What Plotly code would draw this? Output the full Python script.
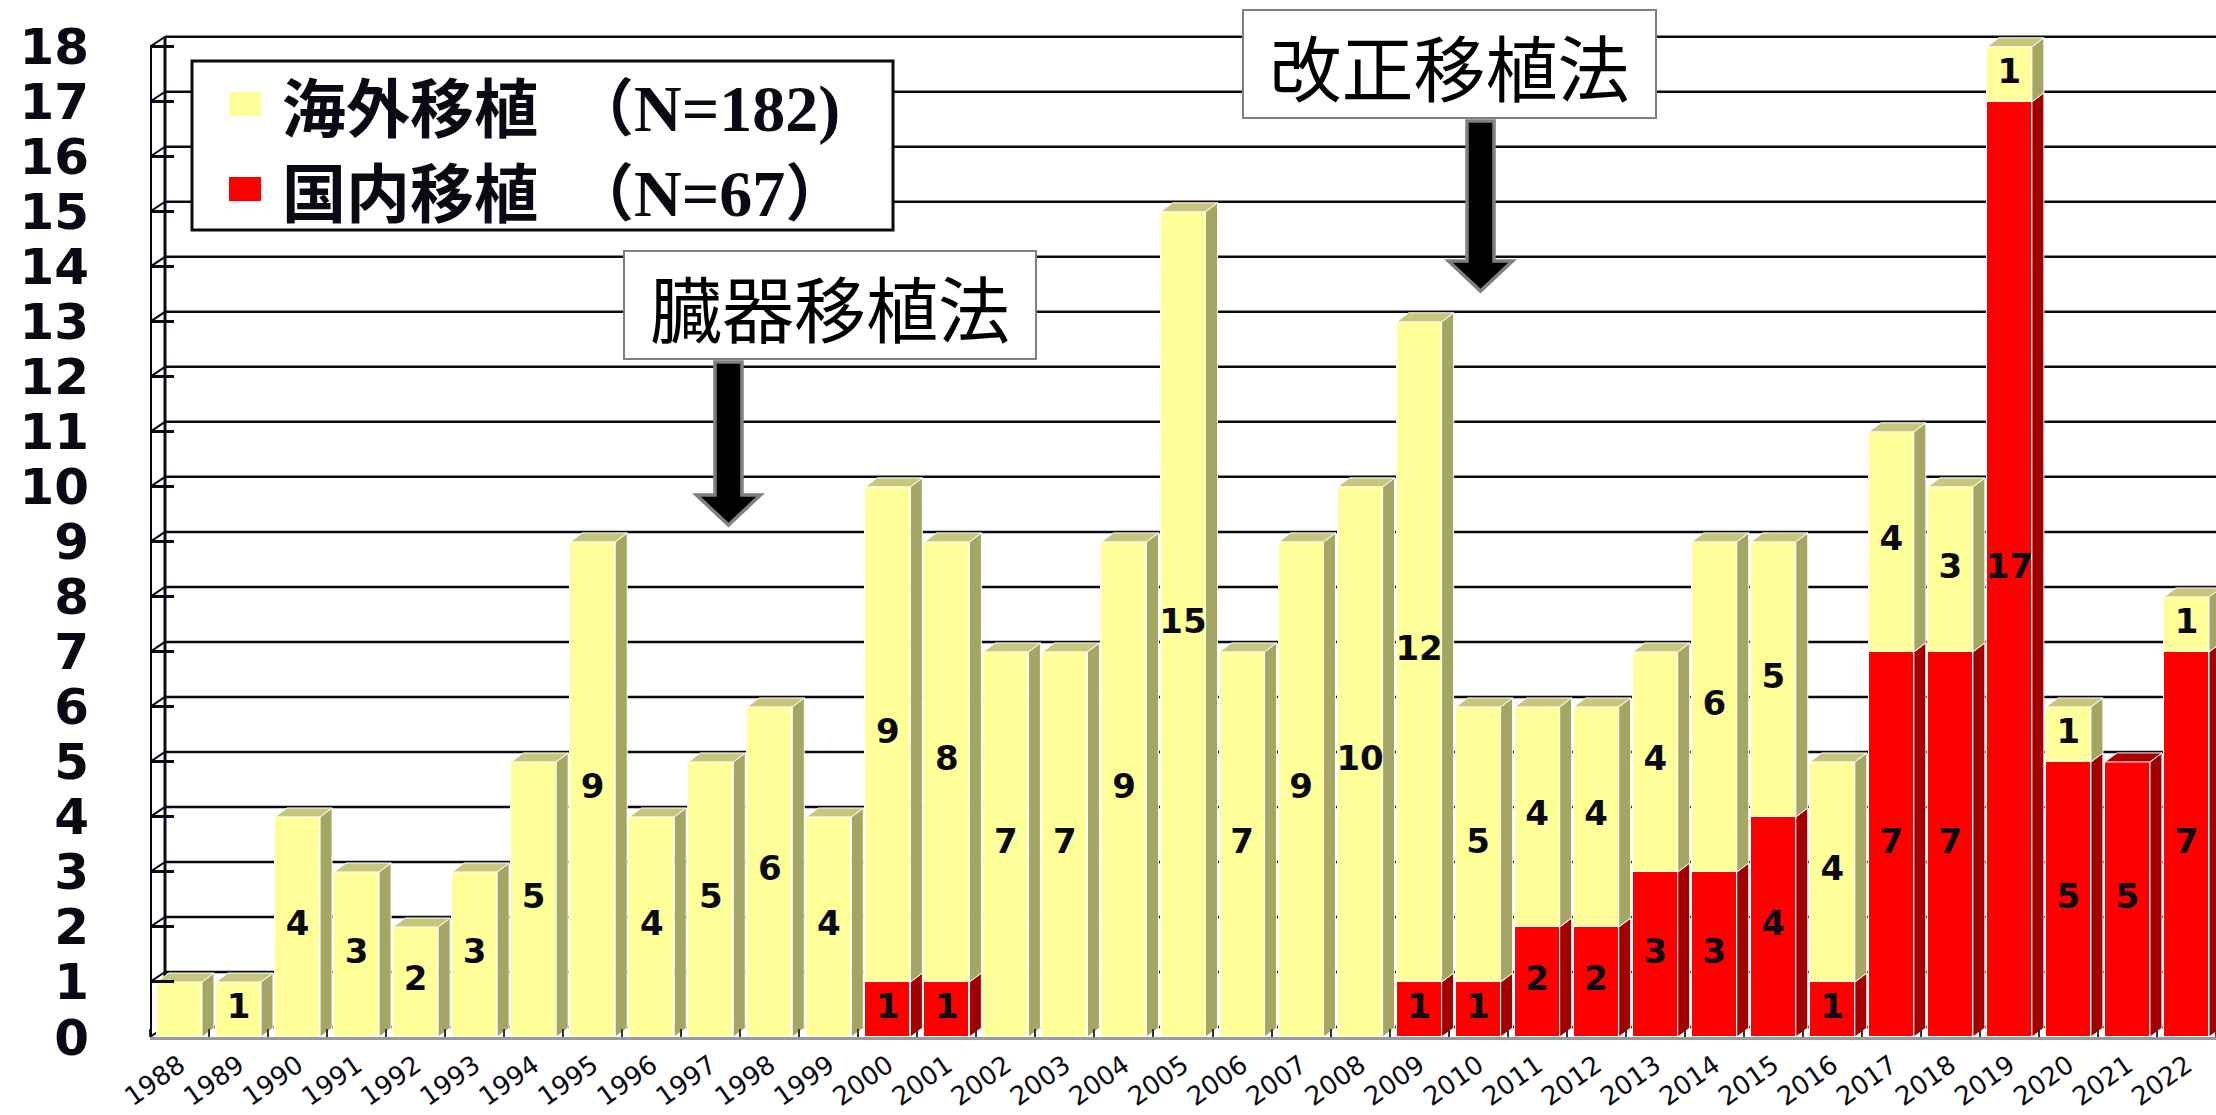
import plotly.graph_objects as go

# ---------------- data ----------------
years = ["1988", "1989", "1990", "1991", "1992", "1993", "1994", "1995", "1996",
         "1997", "1998", "1999", "2000", "2001", "2002", "2003", "2004", "2005",
         "2006", "2007", "2008", "2009", "2010", "2011", "2012", "2013", "2014",
         "2015", "2016", "2017", "2018", "2019", "2020", "2021", "2022"]
overseas = [1, 1, 4, 3, 2, 3, 5, 9, 4, 5, 6, 4, 9, 8, 7, 7, 9, 15, 7, 9, 10, 12,
            5, 4, 4, 4, 6, 5, 4, 4, 3, 1, 1, 0, 1]
domestic = [0, 0, 0, 0, 0, 0, 0, 0, 0, 0, 0, 0, 1, 1, 0, 0, 0, 0, 0, 0, 0, 1,
            1, 2, 2, 3, 3, 4, 1, 7, 7, 17, 5, 5, 7]
overseas_name = "海外移植"
domestic_name = "国内移植"
overseas_n = "（N=182)"
domestic_n = "（N=67）"
hidden_label_years = ["1988"]          # the 1988 bar carries no value label
y_ticks = list(range(0, 19))
law_1997 = ("臓器移植法", "1997")
law_2010 = ("改正移植法", "2010")

# ---------------- styling / geometry ----------------
W, H = 2216, 1115
ML, MR, MT, MB = 150, 0, 33, 78
PW, PH = W - ML - MR, H - MT - MB
XR = [-0.5, len(years) - 0.5]
YR = [0, 18.25]

def px2x(p):
    return XR[0] + (p - ML) / PW * (XR[1] - XR[0])

def px2y(p):
    return YR[0] + (MT + PH - p) / PH * (YR[1] - YR[0])

UX = PW / (XR[1] - XR[0])
UY = PH / (YR[1] - YR[0])
BW = 45 / UX            # bar front width
DX, DY = 12 / UX, 9 / UY  # bar depth
GDX, GDY = 15 / UX, 10 / UY  # wall depth

YEL, YEL_SIDE, YEL_TOP = "#FFFF99", "#A6A664", "#C8C67C"
RED, RED_SIDE, RED_TOP = "#FF0000", "#A30000", "#A80000"

idx = list(range(len(years)))

fig = go.Figure()
fig.add_bar(x=idx, y=domestic, width=BW, name=domestic_name,
            marker=dict(color=RED, line=dict(color="white", width=1.5)),
            hoverinfo="skip", showlegend=False)
fig.add_bar(x=idx, y=overseas, width=BW, name=overseas_name,
            marker=dict(color=YEL, line=dict(color="white", width=1.5)),
            hoverinfo="skip", showlegend=False)

# 3D side and top faces built from the data
def side_polys(bases, vals):
    xs, ys = [], []
    for i, (b, v) in enumerate(zip(bases, vals)):
        if v <= 0:
            continue
        xr = i + BW / 2
        xs += [xr, xr + DX, xr + DX, xr, xr, None]
        ys += [b, b + DY, b + v + DY, b + v, b, None]
    return xs, ys

xs, ys = side_polys([0] * len(domestic), domestic)
fig.add_scatter(x=xs, y=ys, mode="lines", fill="toself", fillcolor=RED_SIDE,
                line=dict(color="white", width=1), hoverinfo="skip", showlegend=False)
xs, ys = side_polys(domestic, overseas)
fig.add_scatter(x=xs, y=ys, mode="lines", fill="toself", fillcolor=YEL_SIDE,
                line=dict(color="white", width=1), hoverinfo="skip", showlegend=False)

for color, pick in ((YEL_TOP, lambda o, d: o > 0), (RED_TOP, lambda o, d: o == 0 and d > 0)):
    xs, ys = [], []
    for i, (o, d) in enumerate(zip(overseas, domestic)):
        if not pick(o, d):
            continue
        top = o + d
        xl, xr = i - BW / 2, i + BW / 2
        xs += [xl, xl + DX, xr + DX, xr, xl, None]
        ys += [top, top + DY, top + DY, top, top, None]
    fig.add_scatter(x=xs, y=ys, mode="lines", fill="toself", fillcolor=color,
                    line=dict(color="white", width=1), hoverinfo="skip", showlegend=False)

# value labels
lx, ly, lt = [], [], []
for i, (y, o, d) in enumerate(zip(years, overseas, domestic)):
    if d > 0:
        lx.append(i); ly.append(d / 2); lt.append(str(d))
    if o > 0 and y not in hidden_label_years:
        lx.append(i); ly.append(d + o / 2); lt.append(str(o))
fig.add_scatter(x=lx, y=ly, text=lt, mode="text",
                textfont=dict(family="DejaVu Sans", size=34, color="#0a0a14", weight="bold"),
                hoverinfo="skip", showlegend=False)

# ---------------- walls / grid ----------------
shapes = []
xb = XR[0] + GDX
for v in y_ticks:
    shapes.append(dict(type="line", xref="x", yref="y", layer="below",
                       x0=xb, x1=XR[1] + 1, y0=v + GDY, y1=v + GDY,
                       line=dict(color="#0a0a14", width=2.5)))
    shapes.append(dict(type="line", xref="x", yref="y", layer="below",
                       x0=XR[0], x1=xb, y0=v, y1=v + GDY,
                       line=dict(color="#0a0a14", width=2)))
shapes.append(dict(type="line", xref="x", yref="y", layer="below",
                   x0=xb, x1=xb, y0=GDY, y1=y_ticks[-1] + GDY,
                   line=dict(color="#0a0a14", width=3)))
shapes.append(dict(type="line", xref="x", yref="y", layer="above",
                   x0=XR[0], x1=XR[0], y0=0, y1=y_ticks[-1],
                   line=dict(color="#0a0a14", width=4)))

# legend box
shapes.append(dict(type="rect", xref="x", yref="y", layer="above",
                   x0=px2x(192), x1=px2x(893), y0=px2y(230), y1=px2y(61),
                   fillcolor="white", line=dict(color="#0a0a14", width=3)))
shapes.append(dict(type="rect", xref="x", yref="y", layer="above",
                   x0=px2x(229), x1=px2x(261), y0=px2y(116), y1=px2y(92),
                   fillcolor=YEL, line=dict(width=0)))
shapes.append(dict(type="rect", xref="x", yref="y", layer="above",
                   x0=px2x(229), x1=px2x(261), y0=px2y(201), y1=px2y(177),
                   fillcolor=RED, line=dict(width=0)))

# arrows
def arrow(xc, top_px, tip_px):
    sw, hw = 13.5 / UX, 32 / UX
    top, tip = px2y(top_px), px2y(tip_px)
    head = px2y(tip_px - 30)
    path = (f"M {xc - sw},{top} L {xc + sw},{top} L {xc + sw},{head} L {xc + hw},{head} "
            f"L {xc},{tip} L {xc - hw},{head} L {xc - sw},{head} Z")
    return dict(type="path", xref="x", yref="y", layer="above", path=path,
                fillcolor="black", line=dict(color="#808080", width=3.5))

shapes.append(arrow(years.index(law_1997[1]) + 0.3, 362, 525))
shapes.append(arrow(years.index(law_2010[1]) + 0.04, 121, 291))

serif = "font-family:Liberation Serif;font-size:66px"
annotations = [
    dict(xref="x", yref="y", x=px2x(280), y=px2y(104), xanchor="left", yanchor="middle",
         text=f"<b>{overseas_name}</b>", showarrow=False,
         font=dict(family="Noto Sans CJK JP", size=64, color="#0a0a14")),
    dict(xref="x", yref="y", x=px2x(280), y=px2y(189), xanchor="left", yanchor="middle",
         text=f"<b>{domestic_name}</b>", showarrow=False,
         font=dict(family="Noto Sans CJK JP", size=64, color="#0a0a14")),
    dict(xref="x", yref="y", x=px2x(570), y=px2y(104), xanchor="left", yanchor="middle",
         text=f"<b>{overseas_n[0]}<span style='{serif}'>{overseas_n[1:]}</span></b>",
         showarrow=False, font=dict(family="Noto Sans CJK JP", size=62, color="#0a0a14")),
    dict(xref="x", yref="y", x=px2x(570), y=px2y(189), xanchor="left", yanchor="middle",
         text=f"<b>{domestic_n[0]}<span style='{serif}'>{domestic_n[1:-1]}</span>{domestic_n[-1]}</b>",
         showarrow=False, font=dict(family="Noto Sans CJK JP", size=62, color="#0a0a14")),
    dict(xref="x", yref="y", x=px2x(830), y=px2y(305), xanchor="center", yanchor="middle",
         text=law_1997[0], showarrow=False, bgcolor="white", bordercolor="#808080",
         borderwidth=2, borderpad=0, width=410, height=106,
         font=dict(family="Noto Sans CJK JP", size=72, color="black")),
    dict(xref="x", yref="y", x=px2x(1449), y=px2y(64), xanchor="center", yanchor="middle",
         text=law_2010[0], showarrow=False, bgcolor="white", bordercolor="#808080",
         borderwidth=2, borderpad=0, width=411, height=106,
         font=dict(family="Noto Sans CJK JP", size=72, color="black")),
]

fig.update_layout(
    width=W, height=H, barmode="stack", bargap=0,
    margin=dict(l=ML, r=MR, t=MT, b=MB, pad=0),
    plot_bgcolor="white", paper_bgcolor="white",
    shapes=shapes, annotations=annotations, showlegend=False,
    xaxis=dict(range=XR, tickmode="array", tickvals=idx, ticktext=years,
               tickangle=-35, tickfont=dict(family="DejaVu Sans", size=26, color="#0a0a14"),
               showgrid=False, zeroline=False, showline=True, linecolor="#9a9a9a",
               linewidth=3, ticks="", ticklabelstandoff=0, automargin=False,
               minor=dict(tick0=0.5, dtick=1, ticks="inside", ticklen=8,
                          tickcolor="#333", tickwidth=2, showgrid=False)),
    yaxis=dict(range=YR, tickmode="array", tickvals=y_ticks, automargin=False,
               tickfont=dict(family="DejaVu Sans", size=50, color="#0a0a14", weight="bold"),
               showgrid=False, zeroline=False, showline=False,
               ticks="inside", ticklen=24, tickwidth=2.5, tickcolor="#0a0a14",
               ticklabelstandoff=60),
)

fig.write_html("out.html", config={"displayModeBar": False},
               post_script="document.body.style.margin='0px';")
